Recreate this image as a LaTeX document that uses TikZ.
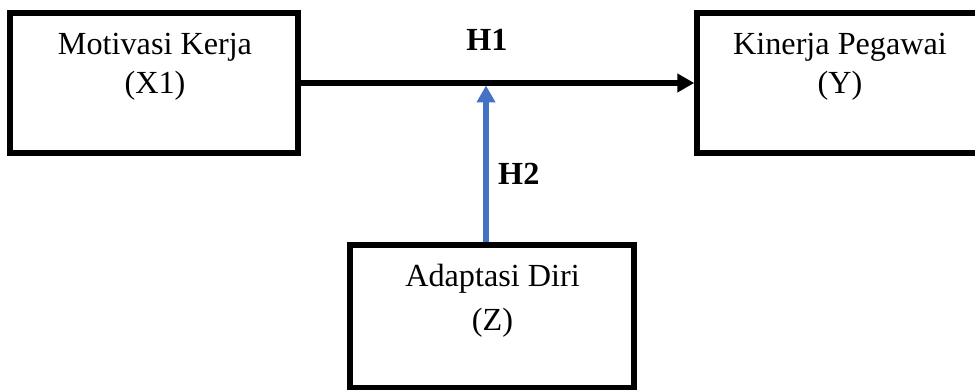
\documentclass[tikz,border=0pt]{standalone}
\usepackage{fontspec}
\setmainfont{Liberation Serif}
\usetikzlibrary{arrows.meta,calc}
\definecolor{arrowblue}{HTML}{4472C4}
\begin{document}
\begin{tikzpicture}[x=1pt,y=-1pt,
  box/.style={draw=black,line width=5.5pt,inner sep=0pt},
  lbl/.style={anchor=base,inner sep=0pt,font=\fontsize{32.2}{38}\selectfont},
  hlbl/.style={anchor=base,inner sep=0pt,font=\fontsize{32.2}{38}\selectfont\bfseries},
  conn/.style={line width=5.5pt,-{Triangle[length=17pt,width=18pt]}}
]
\useasboundingbox (0,0) rectangle (975,390);
% boxes
\node[box,minimum width=288pt,minimum height=140pt] (X) at (154,83) {};
\node[box,minimum width=281pt,minimum height=140pt] (Y) at (837.5,83) {};
\node[box,minimum width=284pt,minimum height=143pt] (Z) at (492,316.5) {};
% texts
\node[lbl] (Xa) at (155,55) {Motivasi Kerja};
\node[lbl] (Xb) at (155,94) {(X1)};
\node[lbl] (Ya) at (840,55) {Kinerja Pegawai};
\node[lbl] (Yb) at (840,94) {(Y)};
\node[lbl] (Za) at (492.5,287) {Adaptasi Diri};
\node[lbl] (Zb) at (492.5,330) {(Z)};
\node[hlbl] (H1) at (487,51) {H1};
\node[hlbl,anchor=base west] (H2) at (498,185) {H2};
% connectors
\draw[conn,black] (X.east) -- (Y.west);
\coordinate (m) at (486,85.5);
\draw[conn,arrowblue] (m |- Z.north) -- (m);
\end{tikzpicture}
\end{document}
